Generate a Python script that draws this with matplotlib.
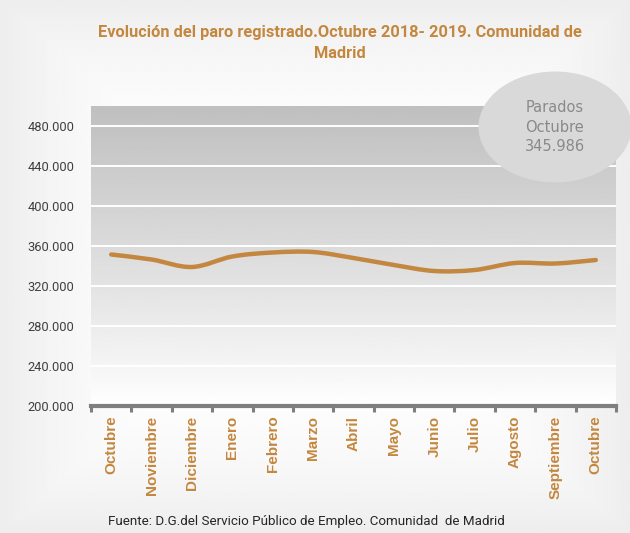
import numpy as np
import matplotlib
matplotlib.use("Agg")
import matplotlib.pyplot as plt
from matplotlib.path import Path
from matplotlib.patches import PathPatch, Ellipse
from matplotlib.ticker import FuncFormatter

meses = ["Octubre", "Noviembre", "Diciembre", "Enero", "Febrero", "Marzo", "Abril",
         "Mayo", "Junio", "Julio", "Agosto", "Septiembre", "Octubre"]
parados = [351500, 346500, 339000, 349500, 353500, 354000, 348000,
           341000, 335000, 336000, 343000, 342500, 345986]
y_ticks = [200000, 240000, 280000, 320000, 360000, 400000, 440000, 480000]

TITLE = "Evolución del paro registrado.Octubre 2018- 2019. Comunidad de\nMadrid"
FUENTE = "Fuente: D.G.del Servicio Público de Empleo. Comunidad  de Madrid"
BURBUJA = "Parados\nOctubre\n345.986"

ORANGE = "#c4873f"
NARROW = ["Roboto", "DejaVu Sans"]
ARIAL = ["Liberation Sans", "DejaVu Sans"]

fig = plt.figure(figsize=(6.3, 5.33), dpi=100)

# soft background of the whole picture
bg = fig.add_axes([0, 0, 1, 1], zorder=-10)
gx = np.linspace(-1, 1, 200)
gy = np.linspace(-1, 1, 200)
X, Y = np.meshgrid(gx, gy)
r = np.clip(np.maximum(np.abs(X) ** 3, np.abs(Y) ** 3), 0, 1)
bg.imshow(1 - 0.07 * r, cmap="gray", vmin=0, vmax=1, aspect="auto", extent=[0, 1, 0, 1])
bg.axis("off")

ax = fig.add_axes([91 / 630, 1 - 406 / 533, (616 - 91) / 630, (406 - 106) / 533])
ax.set_xlim(-0.5, len(meses) - 0.5)
ax.set_ylim(200000, 500000)

# vertical grey gradient of the plot area
grad = np.linspace(0, 1, 256).reshape(-1, 1)
shade = 1 - 0.25 * grad ** 0.9
ax.imshow(shade, cmap="gray", vmin=0, vmax=1, aspect="auto", origin="lower",
          extent=[-0.5, len(meses) - 0.5, 200000, 500000], zorder=0)

for v in y_ticks[1:]:
    ax.axhline(v, color="white", lw=1.4, zorder=1)

# smooth line (Catmull-Rom -> cubic Bezier)
x = np.arange(len(parados), dtype=float)
y = np.array(parados, dtype=float)
pts = np.column_stack([x, y])
verts = [pts[0]]
codes = [Path.MOVETO]
for i in range(len(pts) - 1):
    p0 = pts[i - 1] if i > 0 else pts[i]
    p1, p2 = pts[i], pts[i + 1]
    p3 = pts[i + 2] if i + 2 < len(pts) else pts[i + 1]
    c1 = p1 + (p2 - p0) / 6
    c2 = p2 - (p3 - p1) / 6
    verts += [c1, c2, p2]
    codes += [Path.CURVE4] * 3
ax.add_patch(PathPatch(Path(verts, codes), fill=False, edgecolor=ORANGE, lw=3.2,
                       capstyle="round", zorder=3))

ax.set_yticks(y_ticks)
ax.yaxis.set_major_formatter(FuncFormatter(lambda v, p: f"{int(v):,}".replace(",", ".")))
ax.tick_params(axis="y", length=0, pad=12, labelsize=9.3, labelcolor="#404040")
for t in ax.get_yticklabels():
    t.set_family(NARROW)

ax.set_xticks(np.arange(-0.5, len(meses)))
ax.set_xticklabels([])
ax.set_xticks(np.arange(len(meses)), minor=True)
ax.set_xticklabels(meses, minor=True, rotation=90, fontsize=11, fontweight="bold",
                   color=ORANGE, va="top", ha="center", family=ARIAL)
ax.tick_params(axis="x", which="major", direction="out", length=4, width=2.2, color="#7f7f7f")
ax.tick_params(axis="x", which="minor", length=0, pad=7)

for s in ["top", "right", "left"]:
    ax.spines[s].set_visible(False)
ax.spines["bottom"].set_color("#7f7f7f")
ax.spines["bottom"].set_linewidth(3)

fig.text(0.54, 1 - 43 / 533, TITLE, ha="center", va="center", fontsize=11.8, fontweight="bold",
         color=ORANGE, family=NARROW, linespacing=1.55)
fig.text(0.487, 0.021, FUENTE, ha="center", va="center", fontsize=9.6, color="#262626",
         family=NARROW)

# callout bubble
fig.patches.append(Ellipse((555 / 630, 1 - 127 / 533), 153 / 630, 111 / 533,
                           transform=fig.transFigure, facecolor="#d9d9d9",
                           edgecolor="none", zorder=5))
fig.text(555 / 630, 1 - 127 / 533, BURBUJA, ha="center", va="center", fontsize=10.5,
         color="#8a8a8a", linespacing=1.35, zorder=6)

fig.savefig("out.png", dpi=100)
